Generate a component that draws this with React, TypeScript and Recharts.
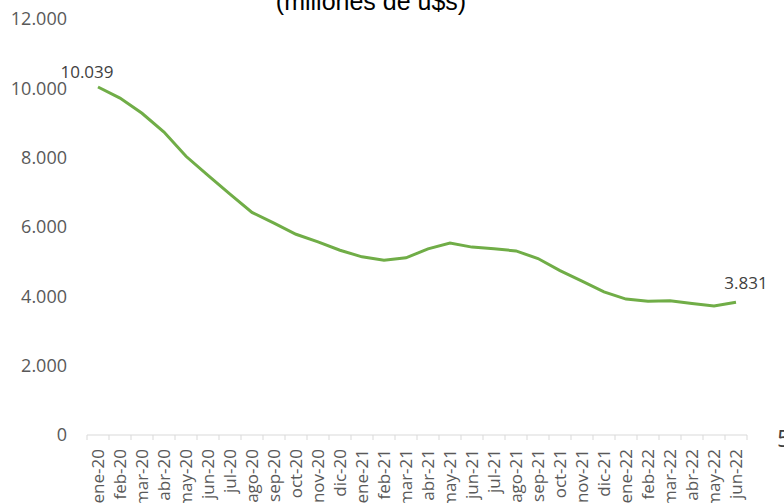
import React from "react";
import { LineChart, Line, XAxis, YAxis, LabelList } from "recharts";

const months = [
  "ene-20", "feb-20", "mar-20", "abr-20", "may-20", "jun-20", "jul-20", "ago-20", "sep-20", "oct-20", "nov-20", "dic-20",
  "ene-21", "feb-21", "mar-21", "abr-21", "may-21", "jun-21", "jul-21", "ago-21", "sep-21", "oct-21", "nov-21", "dic-21",
  "ene-22", "feb-22", "mar-22", "abr-22", "may-22", "jun-22",
];

const values = [
  10039, 9720, 9280, 8740, 8040, 7490, 6950, 6420, 6110, 5790, 5570, 5330,
  5140, 5040, 5110, 5370, 5540, 5420, 5370, 5310, 5090, 4740, 4440, 4130,
  3920, 3860, 3870, 3790, 3720, 3831,
];

const yTicks = [0, 2000, 4000, 6000, 8000, 10000, 12000];

const data = months.map((m, i) => ({ m, v: values[i] }));

const fmt = (n: number) => n.toString().replace(/\B(?=(\d{3})+(?!\d))/g, ".");

const FONT = "'Open Sans', sans-serif";
const W = 784;
const H = 503;
const LEFT = 87;
const RIGHT = 37;
const BAND = (W - LEFT - RIGHT) / months.length;

const XTick = (props: any) => {
  const { x, y, payload, index } = props;
  const last = index === months.length - 1;
  return (
    <g transform={`translate(${x},${y})`}>
      <line x1={-BAND / 2} x2={-BAND / 2} y1={0} y2={5} stroke="#d9d9d9" />
      {last && <line x1={BAND / 2} x2={BAND / 2} y1={0} y2={5} stroke="#d9d9d9" />}
      <text
        transform="rotate(-90)"
        x={-14}
        y={0}
        dy="0.35em"
        textAnchor="end"
        fill="#595959"
        fontSize={17}
        fontFamily={FONT}
      >
        {payload.value}
      </text>
    </g>
  );
};

const EndLabel = (props: any) => {
  const { x, y, value, index } = props;
  if (index === 0) {
    return (
      <text x={x - 11} y={y - 15} dy="0.35em" textAnchor="middle" fill="#404040" fontSize={17} fontFamily={FONT}>
        {fmt(value)}
      </text>
    );
  }
  if (index === values.length - 1) {
    return (
      <text x={x + 10} y={y - 19} dy="0.35em" textAnchor="middle" fill="#404040" fontSize={17} fontFamily={FONT}>
        {fmt(value)}
      </text>
    );
  }
  return null;
};

export default function App() {
  return (
    <div style={{ position: "absolute", left: 0, top: 0, width: W, height: H, background: "#fff" }}>
      <LineChart width={W} height={H} data={data} margin={{ top: 19, right: RIGHT, left: 0, bottom: 0 }}>
        <XAxis
          dataKey="m"
          interval={0}
          height={68}
          padding={{ left: BAND / 2, right: BAND / 2 }}
          tickSize={0}
          tickMargin={0}
          tickLine={false}
          axisLine={{ stroke: "#d9d9d9" }}
          tick={<XTick />}
        />
        <YAxis
          width={LEFT}
          domain={[0, 12000]}
          ticks={yTicks}
          interval={0}
          axisLine={false}
          tickLine={false}
          tickSize={0}
          tickMargin={20}
          tickFormatter={fmt}
          tick={{ fill: "#595959", fontSize: 18, fontFamily: FONT }}
        />
        <Line
          type="linear"
          dataKey="v"
          stroke="#70AD47"
          strokeWidth={3}
          dot={false}
          isAnimationActive={false}
        >
          <LabelList dataKey="v" content={<EndLabel />} />
        </Line>
        <text x={371} y={10} textAnchor="middle" fill="#000" fontSize={25} fontFamily="'Liberation Sans', Arial, sans-serif">
          (millones de u$s)
        </text>
        <text x={777} y={447} fill="#404040" fontSize={24} fontFamily={FONT}>
          5
        </text>
      </LineChart>
    </div>
  );
}
